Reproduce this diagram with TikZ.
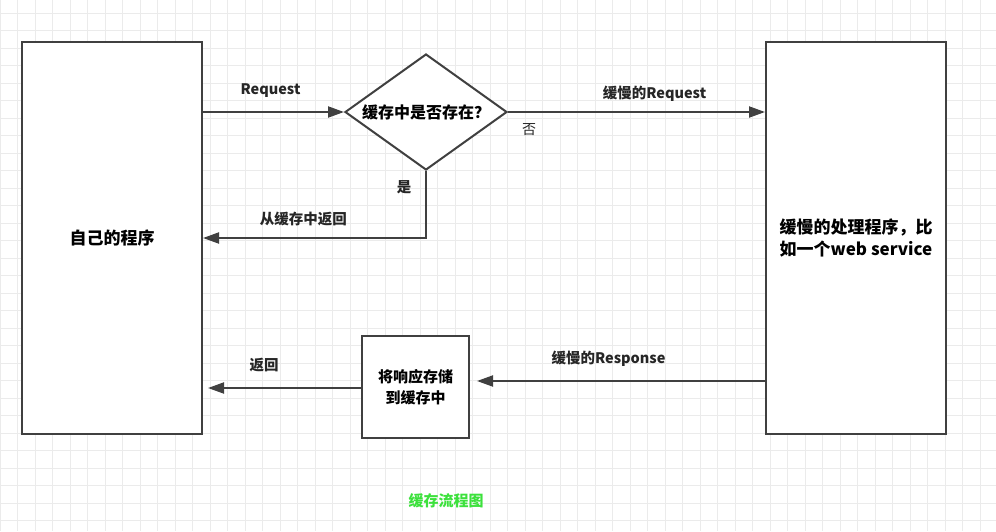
\documentclass[tikz,border=0pt]{standalone}
\usepackage{fontspec}
\setmainfont{Noto Sans CJK SC}
\usetikzlibrary{shapes.geometric,arrows.meta}
\definecolor{ink}{RGB}{64,64,64}
\definecolor{capgreen}{RGB}{60,225,60}
\begin{document}
\begin{tikzpicture}[x=1pt,y=-1pt,>={Triangle[length=16pt,width=11pt]},
  box/.style={draw=ink,line width=2pt,fill=white,align=center,font=\bfseries},
  decide/.style={draw=ink,line width=2pt,fill=white,diamond,aspect=1.4,inner sep=0pt,
    minimum width=162pt,minimum height=116pt,font=\fontsize{16}{18}\selectfont\bfseries},
  flow/.style={draw=ink,line width=2pt},
  lbl/.style={font=\fontsize{14.5}{16}\selectfont\bfseries,text=black!85}]
\useasboundingbox (0,0) rectangle (996,531);
\fill[white] (0,0) rectangle (996,531);
% grid
\foreach \i in {0,...,57} \draw[black!8,line width=0.8pt] (17.5*\i,0) -- (17.5*\i,531);
\foreach \j in {0,...,30} \draw[black!8,line width=0.8pt] (0,13+17.5*\j) -- (996,13+17.5*\j);
\node[box,minimum width=180pt,minimum height=392pt,font=\fontsize{17}{21}\selectfont\bfseries] (app) at (112,238) {自己的程序};
\node[box,minimum width=180pt,minimum height=392pt,font=\fontsize{17}{22}\selectfont\bfseries] (slow) at (856,238) {缓慢的处理程序，比\\如一个web service};
\node[decide] (check) at (426,112) {缓存中是否存在？};
\node[box,minimum width=107pt,minimum height=102pt,font=\fontsize{15}{21}\selectfont\bfseries] (store) at (415.5,387) {将响应存储\\到缓存中};
\draw[flow,->] (app.east |- check.west) -- node[lbl,above=10pt,xshift=-3pt] {Request} (check.west);
\draw[flow,->] (check.east) -- node[lbl,above=6pt,xshift=18pt] {缓慢的Request} (check.east -| slow.west);
\draw[flow,->] (check.south) |- node[lbl,pos=0.775,above=8pt] {从缓存中返回} (app.east);
\draw[flow,->,shorten >=7pt] (slow.west |- 0,381) -- node[lbl,above=10pt,xshift=-9pt] {缓慢的Response} (store.east |- 0,381);
\draw[flow,->,shorten >=5pt] (store.west |- 0,388) -- node[lbl,above=12pt,xshift=-18pt] {返回} (app.east |- 0,388);
\node[font=\fontsize{14}{16}\selectfont,text=black!85] (no) at (529,130) {否};
\node[lbl] (yes) at (404,187) {是};
\node[font=\fontsize{15}{17}\selectfont\bfseries,text=capgreen] (title) at (446,501) {缓存流程图};
\end{tikzpicture}
\end{document}
